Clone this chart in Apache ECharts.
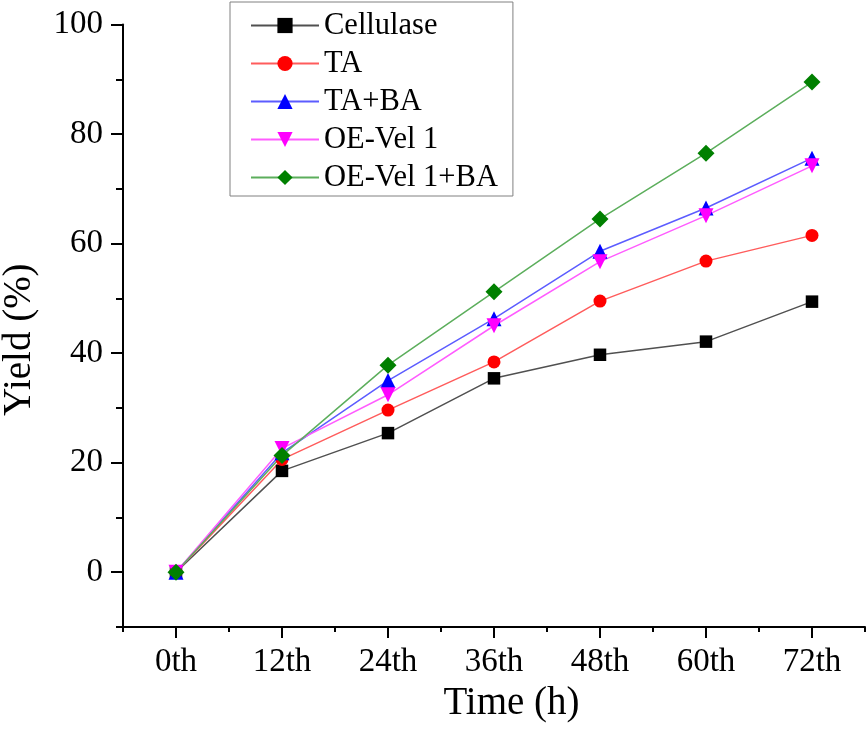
<!DOCTYPE html>
<html>
<head>
<meta charset="utf-8">
<script src="https://cdn.jsdelivr.net/npm/echarts@6/dist/echarts.min.js"></script>
<style>html,body{margin:0;padding:0;background:#fff}#c{width:867px;height:730px}</style>
</head>
<body>
<div id="c"></div>
<script>
var categories = ['0th', '12th', '24th', '36th', '48th', '60th', '72th'];
var cellulase = [0, 18.5, 25.4, 35.4, 39.7, 42.1, 49.4];
var ta = [0, 20.6, 29.6, 38.4, 49.5, 56.8, 61.5];
var taBa = [0, 21.8, 35.0, 46.3, 58.6, 66.5, 75.6];
var oeVel1 = [0, 22.6, 32.4, 45.0, 56.7, 65.1, 74.2];
var oeVel1Ba = [0, 21.3, 37.8, 51.2, 64.5, 76.5, 89.5];
var yLabelTicks = [0, 20, 40, 60, 80, 100];
var yMinorTicks = [-10, 10, 30, 50, 70, 90];

var font = 'Liberation Serif, Times New Roman, serif';
function mk(name, data, sym, size, mColor, lColor, rot) {
  return {
    name: name, type: 'line', data: data, xAxisIndex: 0, yAxisIndex: 0,
    symbol: sym, symbolSize: size, symbolRotate: rot || 0, showAllSymbol: true,
    itemStyle: {color: mColor},
    lineStyle: {color: lColor, width: 1.5},
    emphasis: {disabled: true}, animation: false
  };
}
var chart = echarts.init(document.getElementById('c'), null, {renderer: 'canvas'});
chart.setOption({
  backgroundColor: '#fff',
  animation: false,
  grid: {left: 123, right: 2, top: 24.5, bottom: 103, outerBoundsMode: 'none', containLabel: false},
  legend: {
    orient: 'vertical', left: 230, top: 2,
    padding: [8, 15, 3, 20],
    borderColor: '#808080', borderWidth: 1,
    itemWidth: 68, itemHeight: 19, itemGap: 7,
    textStyle: {fontFamily: font, fontSize: 30.5, color: '#000', lineHeight: 30},
    data: ['Cellulase', 'TA', 'TA+BA', 'OE-Vel 1', 'OE-Vel 1+BA']
  },
  xAxis: [{
    type: 'category', data: categories, boundaryGap: true, position: 'bottom',
    axisLine: {show: true, onZero: false, lineStyle: {color: '#000', width: 2}},
    axisTick: {show: true, alignWithLabel: true, length: 11, lineStyle: {color: '#000', width: 2}},
    axisLabel: {margin: 19, fontFamily: font, fontSize: 33, color: '#000'},
    splitLine: {show: false},
    name: 'Time (h)', nameLocation: 'middle', nameGap: 48,
    nameTextStyle: {fontFamily: font, fontSize: 39, color: '#000', padding: [0, 0, 0, 35]}
  }, {
    type: 'category', data: categories, boundaryGap: true, position: 'bottom',
    axisLine: {show: false, onZero: false},
    axisTick: {show: true, alignWithLabel: false, length: 5, lineStyle: {color: '#000', width: 2}},
    axisLabel: {show: false},
    splitLine: {show: false}
  }],
  yAxis: [{
    type: 'value', min: -10, max: 100, interval: 10, position: 'left',
    axisLine: {show: true, onZero: false, lineStyle: {color: '#000', width: 2}},
    axisTick: {show: true, length: 12, customValues: yLabelTicks, lineStyle: {color: '#000', width: 2}},
    axisLabel: {margin: 20, fontFamily: font, fontSize: 33, color: '#000', customValues: yLabelTicks},
    splitLine: {show: false},
    name: 'Yield (%)', nameLocation: 'middle', nameGap: 84,
    nameTextStyle: {fontFamily: font, fontSize: 39, color: '#000', padding: [0, 28, 0, 0]}
  }, {
    type: 'value', min: -10, max: 100, interval: 10, position: 'left',
    axisLine: {show: false, onZero: false},
    axisTick: {show: true, length: 7, customValues: yMinorTicks, lineStyle: {color: '#000', width: 2}},
    axisLabel: {show: false},
    splitLine: {show: false}
  }],
  series: [
    mk('Cellulase', cellulase, 'rect', 12.5, '#000000', '#505050'),
    mk('TA', ta, 'circle', 13, '#ff0000', '#ff5c5c'),
    mk('TA+BA', taBa, 'triangle', 15, '#0000ff', '#5c5cff'),
    mk('OE-Vel 1', oeVel1, 'triangle', 15, '#ff00ff', '#ff5cff', 180),
    mk('OE-Vel 1+BA', oeVel1Ba, 'diamond', 17, '#008000', '#5cae5c')
  ]
});
</script>
</body>
</html>
